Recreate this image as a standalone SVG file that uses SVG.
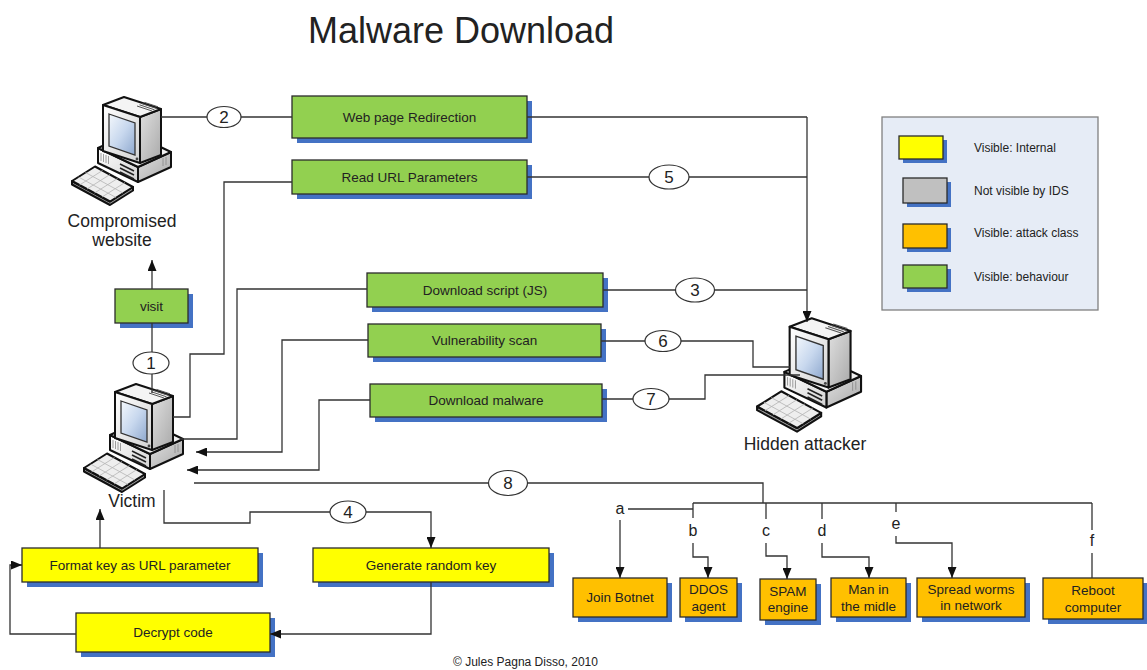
<svg xmlns="http://www.w3.org/2000/svg" width="1147" height="670" viewBox="0 0 1147 670">
  <defs>
    <style>
      .txt{font-family:"Liberation Sans",Arial,Helvetica,sans-serif;fill:#222}
      .bt{font-size:13.5px;text-anchor:middle}
      .lg{font-size:12px}
      .lbl{font-size:17.5px;text-anchor:middle}
      .nt{font-size:17px;text-anchor:middle}
      .lt{font-size:16px;text-anchor:middle}
      .box{stroke:#2b2b2b;stroke-width:1.3}
      .sh{fill:#4472C4}
      .green{fill:#92D050}
      .yellow{fill:#FFFF00}
      .orange{fill:#FFC000}
      .grey{fill:#C0C0C0}
      .ln{fill:none;stroke:#333;stroke-width:1.3}
      .arr{marker-end:url(#ah)}
      .num{fill:#fff;stroke:#333;stroke-width:1.2}
      .pc{stroke:#111;stroke-width:2;stroke-linejoin:round}
    </style>
    <marker id="ah" markerWidth="11" markerHeight="9" refX="11" refY="4.5" orient="auto" markerUnits="userSpaceOnUse">
      <path d="M0,0 L11,4.5 L0,9 z" fill="#111"/>
    </marker>
    <linearGradient id="gFront" x1="0" y1="0" x2="1" y2="1">
      <stop offset="0" stop-color="#ffffff"/>
      <stop offset="1" stop-color="#d2d2d2"/>
    </linearGradient>
    <linearGradient id="gSide" x1="0" y1="0" x2="1" y2="1">
      <stop offset="0" stop-color="#e0e0e0"/>
      <stop offset="1" stop-color="#a9a9a9"/>
    </linearGradient>
    <linearGradient id="gScreen" x1="0" y1="0" x2="1" y2="1">
      <stop offset="0" stop-color="#f4f8fc"/>
      <stop offset="0.5" stop-color="#c8d8ee"/>
      <stop offset="1" stop-color="#8ea8ce"/>
    </linearGradient>
    <!-- desktop computer icon -->
    <g id="pc">
      <!-- case -->
      <polygon class="pc" points="68,76 101,61 101,76 68,91" fill="url(#gSide)"/>
      <polygon class="pc" points="28,57 68,76 68,91 28,72" fill="url(#gFront)"/>
      <polygon class="pc" points="28,57 61,42 101,61 68,76" fill="#f2f2f2"/>
      <path d="M50,73 L64,80 M50,77 L64,84 M50,81 L64,88" stroke="#222" stroke-width="1.6"/>
      <path d="M31,62 V70 M33.5,63 V71 M36,64 V72 M38.5,65 V73" stroke="#888" stroke-width="0.8"/>
      <path d="M93,67 V75 M96,66 V74" stroke="#888" stroke-width="0.8"/>
      <!-- monitor -->
      <polygon class="pc" points="70,26 91,18 91,64 70,72" fill="url(#gSide)"/>
      <polygon class="pc" points="33,14 54,6 91,18 70,26" fill="#f4f4f4"/>
      <polygon class="pc" points="33,14 70,26 70,72 33,60" fill="url(#gFront)"/>
      <polygon points="39,23 65,32 65,64 39,55" fill="url(#gScreen)" stroke="#333" stroke-width="1.3"/>
      <path d="M67,15 L82,20 M69.5,13.8 L84.5,18.8 M72,12.6 L87,17.6 M74.5,11.4 L88,15.8" stroke="#555" stroke-width="1"/>
      <circle cx="67" cy="68" r="1.4" fill="#444"/>
      <!-- keyboard -->
      <polygon class="pc" points="2,90 2,93.5 40,114 63,99.5 63,96 40,110.5" fill="#9a9a9a"/>
      <polygon class="pc" points="2,90 25,75.5 63,96 40,110.5" fill="#eeeeee"/>
      <path d="M9.5,94 L32.5,79.5 M17,98 L40,83.5 M24.5,102 L47.5,87.5 M32,106 L55,91.5 M8.5,86 L46,106.5 M15.5,81.5 L53,102" stroke="#b5b5b5" stroke-width="0.8"/>
    </g>
  </defs>

  <rect width="1147" height="670" fill="#ffffff"/>

  <text class="txt" x="308" y="43" font-size="36">Malware Download</text>

  <!-- computers -->
  <g id="compromised-website">
    <use href="#pc" transform="translate(70,91)"/>
    <text class="txt lbl" x="122" y="227">Compromised</text>
    <text class="txt lbl" x="122" y="246">website</text>
  </g>
  <g id="victim">
    <use href="#pc" transform="translate(82,378)"/>
    <text class="txt lbl" x="132" y="507">Victim</text>
  </g>
  <g id="hidden-attacker">
    <use href="#pc" transform="translate(755,312) scale(1.05)"/>
    <text class="txt lbl" x="805" y="450">Hidden attacker</text>
  </g>

  <!-- behaviour steps -->
  <g id="web-page-redirection">
    <rect class="sh" x="297" y="101" width="235" height="42"/>
    <rect class="box green" x="292" y="96" width="235" height="42"/>
    <text class="txt bt" x="409.5" y="121.7">Web page Redirection</text>
  </g>
  <g id="read-url-parameters">
    <rect class="sh" x="297" y="165" width="235" height="34"/>
    <rect class="box green" x="292" y="160" width="235" height="34"/>
    <text class="txt bt" x="409.5" y="181.7">Read URL Parameters</text>
  </g>
  <g id="download-script">
    <rect class="sh" x="372" y="278" width="236" height="34"/>
    <rect class="box green" x="367" y="273" width="236" height="34"/>
    <text class="txt bt" x="485" y="294.7">Download script (JS)</text>
  </g>
  <g id="vulnerability-scan">
    <rect class="sh" x="373" y="329" width="233" height="33"/>
    <rect class="box green" x="368" y="324" width="233" height="33"/>
    <text class="txt bt" x="484.5" y="345.2">Vulnerability scan</text>
  </g>
  <g id="download-malware">
    <rect class="sh" x="375" y="389" width="232" height="33"/>
    <rect class="box green" x="370" y="384" width="232" height="33"/>
    <text class="txt bt" x="486" y="405.2">Download malware</text>
  </g>
  <g id="visit">
    <rect class="sh" x="120" y="294" width="73" height="34"/>
    <rect class="box green" x="115" y="289" width="73" height="34"/>
    <text class="txt bt" x="151.5" y="310.7">visit</text>
  </g>

  <!-- internal steps -->
  <g id="format-key">
    <rect class="sh" x="27" y="553" width="236" height="34"/>
    <rect class="box yellow" x="22" y="548" width="236" height="34"/>
    <text class="txt bt" x="140" y="569.7">Format key as URL parameter</text>
  </g>
  <g id="generate-random-key">
    <rect class="sh" x="318" y="553" width="236" height="34"/>
    <rect class="box yellow" x="313" y="548" width="236" height="34"/>
    <text class="txt bt" x="431" y="569.7">Generate random key</text>
  </g>
  <g id="decrypt-code">
    <rect class="sh" x="81" y="618" width="194" height="39"/>
    <rect class="box yellow" x="76" y="613" width="194" height="39"/>
    <text class="txt bt" x="173" y="637.2">Decrypt code</text>
  </g>

  <!-- attack classes -->
  <g id="join-botnet">
    <rect class="sh" x="578" y="583" width="94" height="39"/>
    <rect class="box orange" x="573" y="578" width="94" height="39"/>
    <text class="txt bt" x="620" y="602.2">Join Botnet</text>
  </g>
  <g id="ddos-agent">
    <rect class="sh" x="685" y="583" width="57" height="39"/>
    <rect class="box orange" x="680" y="578" width="57" height="39"/>
    <text class="txt bt" x="708.5" y="594">DDOS</text>
    <text class="txt bt" x="708.5" y="611">agent</text>
  </g>
  <g id="spam-engine">
    <rect class="sh" x="765" y="584" width="56" height="41"/>
    <rect class="box orange" x="760" y="579" width="56" height="41"/>
    <text class="txt bt" x="788" y="596">SPAM</text>
    <text class="txt bt" x="788" y="612">engine</text>
  </g>
  <g id="man-in-the-middle">
    <rect class="sh" x="836" y="583" width="75" height="39"/>
    <rect class="box orange" x="831" y="578" width="75" height="39"/>
    <text class="txt bt" x="868.5" y="594">Man in</text>
    <text class="txt bt" x="868.5" y="611">the midle</text>
  </g>
  <g id="spread-worms">
    <rect class="sh" x="922" y="583" width="108" height="39"/>
    <rect class="box orange" x="917" y="578" width="108" height="39"/>
    <text class="txt bt" x="971" y="594">Spread worms</text>
    <text class="txt bt" x="971" y="610">in network</text>
  </g>
  <g id="reboot-computer">
    <rect class="sh" x="1048" y="583" width="100" height="41"/>
    <rect class="box orange" x="1043" y="578" width="100" height="41"/>
    <text class="txt bt" x="1093" y="595">Reboot</text>
    <text class="txt bt" x="1093" y="612">computer</text>
  </g>

  <!-- legend -->
  <g id="legend">
    <rect x="882" y="117" width="216" height="193" fill="#E6ECF6" stroke="#808080" stroke-width="1.3"/>
    <rect class="sh" x="903" y="140" width="44" height="23"/>
    <rect class="box yellow" x="899" y="136" width="44" height="23"/>
    <rect class="sh" x="907" y="182" width="44" height="25"/>
    <rect class="box grey" x="903" y="178" width="44" height="25"/>
    <rect class="sh" x="907" y="228" width="44" height="24"/>
    <rect class="box orange" x="903" y="224" width="44" height="24"/>
    <rect class="sh" x="907" y="269" width="44" height="23"/>
    <rect class="box green" x="903" y="265" width="44" height="23"/>
    <text class="txt lg" x="974" y="152">Visible: Internal</text>
    <text class="txt lg" x="974" y="195">Not visible by IDS</text>
    <text class="txt lg" x="974" y="237">Visible: attack class</text>
    <text class="txt lg" x="974" y="281">Visible: behaviour</text>
  </g>

  <!-- connectors -->
  <g id="connectors">
    <!-- victim to compromised website -->
    <path class="ln" d="M152,393 V323"/>
    <path class="ln arr" d="M152,289 V260"/>
    <!-- compromised website to attacker -->
    <path class="ln" d="M161,117 H292"/>
    <path class="ln" d="M527,117 H807"/>
    <path class="ln arr" d="M807,117 V322"/>
    <!-- read URL parameters -->
    <path class="ln" d="M292,182 H224 V354 H190 V417 H173"/>
    <path class="ln" d="M527,177 H807"/>
    <!-- download script -->
    <path class="ln" d="M367,289 H237 V439 H180"/>
    <path class="ln" d="M603,290 H807"/>
    <!-- vulnerability scan -->
    <path class="ln arr" d="M368,340 H282 V452 H196"/>
    <path class="ln" d="M601,341 H753 V367 H790"/>
    <!-- download malware -->
    <path class="ln arr" d="M370,400 H319 V470 H187"/>
    <path class="ln" d="M602,399 H705 V375 H800"/>
    <!-- key handling on victim -->
    <path class="ln arr" d="M164,490 V523 H250 V512 H431 V548"/>
    <path class="ln arr" d="M431,582 V634 H270"/>
    <path class="ln arr" d="M76,634 H10 V565 H22"/>
    <path class="ln arr" d="M100,548 V509"/>
    <!-- payload branches -->
    <path class="ln" d="M194,483 H763 V503"/>
    <path class="ln" d="M693,503 H1092" stroke-width="1.8"/>
    <path class="ln" d="M628,509 H693"/>
    <path class="ln arr" d="M620,520 V578"/>
    <path class="ln" d="M693,503 V518"/>
    <path class="ln arr" d="M693,543 V557 H708 V578"/>
    <path class="ln" d="M766,503 V519"/>
    <path class="ln arr" d="M766,543 V556 H787 V579"/>
    <path class="ln" d="M822,503 V519"/>
    <path class="ln arr" d="M822,543 V557 H869 V578"/>
    <path class="ln" d="M896,503 V512"/>
    <path class="ln arr" d="M896,536 V543 H952 V578"/>
    <path class="ln" d="M1092,503 V530"/>
    <path class="ln" d="M1092,553 V578"/>

    <!-- step numbers -->
    <ellipse class="num" cx="151" cy="363" rx="18" ry="11"/>
    <text class="txt nt" x="151" y="369">1</text>
    <ellipse class="num" cx="224" cy="117" rx="17" ry="10.5"/>
    <text class="txt nt" x="224" y="123">2</text>
    <ellipse class="num" cx="695" cy="290" rx="19.5" ry="12"/>
    <text class="txt nt" x="695" y="296">3</text>
    <ellipse class="num" cx="348" cy="512" rx="18" ry="11"/>
    <text class="txt nt" x="348" y="518">4</text>
    <ellipse class="num" cx="669" cy="177" rx="20" ry="12"/>
    <text class="txt nt" x="669" y="183">5</text>
    <ellipse class="num" cx="663" cy="341" rx="18" ry="10.5"/>
    <text class="txt nt" x="663" y="347">6</text>
    <ellipse class="num" cx="651" cy="399" rx="18" ry="10.5"/>
    <text class="txt nt" x="651" y="405">7</text>
    <ellipse class="num" cx="508" cy="483" rx="19.5" ry="12.5"/>
    <text class="txt nt" x="508" y="489">8</text>

    <!-- branch letters -->
    <text class="txt lt" x="620" y="514">a</text>
    <text class="txt lt" x="693" y="536">b</text>
    <text class="txt lt" x="766" y="536">c</text>
    <text class="txt lt" x="822" y="536">d</text>
    <text class="txt lt" x="896" y="529">e</text>
    <text class="txt lt" x="1092" y="546">f</text>
  </g>

  <text class="txt" x="453" y="666" font-size="12">© Jules Pagna Disso, 2010</text>
</svg>
